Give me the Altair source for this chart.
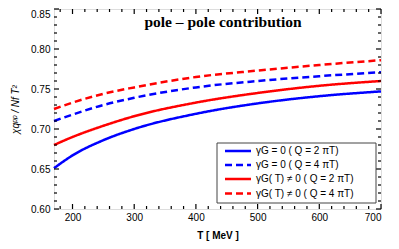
import altair as alt
import pandas as pd

T_vals = [170, 200, 250, 300, 400, 500, 600, 700]
blue_solid = [0.651, 0.667, 0.686, 0.700, 0.719, 0.732, 0.741, 0.747]
blue_dash = [0.710, 0.718, 0.730, 0.739, 0.752, 0.760, 0.766, 0.771]
red_solid = [0.680, 0.690, 0.704, 0.716, 0.733, 0.745, 0.754, 0.760]
red_dash = [0.725, 0.733, 0.744, 0.752, 0.765, 0.773, 0.780, 0.786]

series_names = [
    "γG = 0 ( Q = 2 πT)",
    "γG = 0 ( Q = 4 πT)",
    "γG( T) ≠ 0 ( Q = 2 πT)",
    "γG( T) ≠ 0 ( Q = 4 πT)",
]
series_colors = ["#0000ff", "#0000ff", "#ff0000", "#ff0000"]
series_dash = [[1, 0], [7, 4], [1, 0], [7, 4]]
series_values = [blue_solid, blue_dash, red_solid, red_dash]

x_major = [200, 300, 400, 500, 600, 700]
x_minor = [180, 220, 240, 260, 280, 320, 340, 360, 380, 420, 440, 460, 480,
           520, 540, 560, 580, 620, 640, 660, 680]
y_major = [0.60, 0.65, 0.70, 0.75, 0.80, 0.85]
y_minor = [0.61, 0.62, 0.63, 0.64, 0.66, 0.67, 0.68, 0.69, 0.71, 0.72, 0.73,
           0.74, 0.76, 0.77, 0.78, 0.79, 0.81, 0.82, 0.83, 0.84]

W, H = 327, 200
FONT = "Liberation Sans"

rows = []
for name, vals in zip(series_names, series_values):
    for t, v in zip(T_vals, vals):
        rows.append({"T": t, "chi": v, "series": name})
df = pd.DataFrame(rows)

xs = alt.Scale(domain=[170, 700], nice=False, zero=False)
ys = alt.Scale(domain=[0.60, 0.85], nice=False, zero=False)

xaxis = alt.Axis(title="T [ MeV ]", values=x_major, ticks=False, tickSize=0,
                 domain=False, grid=False, labelPadding=3, titlePadding=8,
                 labelFont=FONT, labelFontSize=10, labelColor="black",
                 titleFont=FONT, titleFontSize=10, titleFontWeight="bold",
                 titleColor="black")
yaxis = alt.Axis(title="χqᵖᵖ / Nf T²", values=y_major, format=".2f",
                 ticks=False, tickSize=0, domain=False, grid=False,
                 labelPadding=4, titlePadding=10,
                 labelBaseline=alt.condition("datum.value >= 0.849",
                                             alt.value("top"), alt.value("middle")),
                 labelFont=FONT, labelFontSize=10, labelColor="black",
                 titleFont=FONT, titleFontSize=10, titleFontStyle="italic",
                 titleFontWeight="normal", titleColor="black")

lines = alt.Chart(df).mark_line(strokeWidth=2.5, interpolate="monotone").encode(
    x=alt.X("T:Q", scale=xs, axis=xaxis),
    y=alt.Y("chi:Q", scale=ys, axis=yaxis),
    color=alt.Color("series:N", scale=alt.Scale(domain=series_names, range=series_colors),
                    legend=None),
    strokeDash=alt.StrokeDash("series:N",
                              scale=alt.Scale(domain=series_names, range=series_dash),
                              legend=None),
)

def tick_layers(vals, length, axis):
    d = pd.DataFrame({"v": vals})
    base = alt.Chart(d).mark_rule(color="black", strokeWidth=1.2)
    if axis == "x":
        bottom = base.encode(x=alt.X("v:Q", scale=xs, axis=xaxis),
                             y=alt.value(H), y2=alt.value(H - length))
        top = base.encode(x=alt.X("v:Q", scale=xs, axis=xaxis),
                          y=alt.value(0), y2=alt.value(length))
        return [bottom, top]
    left = base.encode(y=alt.Y("v:Q", scale=ys, axis=yaxis),
                       x=alt.value(0), x2=alt.value(length))
    right = base.encode(y=alt.Y("v:Q", scale=ys, axis=yaxis),
                        x=alt.value(W), x2=alt.value(W - length))
    return [left, right]

ticks = (tick_layers(x_major, 5, "x") + tick_layers(x_minor, 3, "x")
         + tick_layers(y_major, 5, "y") + tick_layers(y_minor, 3, "y"))

title = alt.Chart(pd.DataFrame({"t": ["pole – pole  contribution"]})).mark_text(
    font="Liberation Serif", fontSize=15.5, fontWeight="bold", color="black",
    align="center", baseline="middle"
).encode(x=alt.value(169), y=alt.value(13), text="t:N")

# legend box
LX0, LX1, LY0, LY1 = 163, 322, 134, 194
legend_box = alt.Chart(pd.DataFrame({"a": [0]})).mark_rect(
    fill="white", stroke="#444444", strokeWidth=1
).encode(x=alt.value(LX0), x2=alt.value(LX1), y=alt.value(LY0), y2=alt.value(LY1))

legend_layers = [legend_box]
row_y = [142, 156, 170, 184.5]
for name, col, dash, ry in zip(series_names, series_colors, series_dash, row_y):
    d = pd.DataFrame({"s": [name]})
    legend_layers.append(
        alt.Chart(d).mark_rule(color=col, strokeWidth=2.5, strokeDash=dash).encode(
            x=alt.value(171), x2=alt.value(197), y=alt.value(ry)))
    legend_layers.append(
        alt.Chart(d).mark_text(font=FONT, fontSize=10, color="black", align="left",
                               baseline="middle").encode(
            x=alt.value(202), y=alt.value(ry), text="s:N"))

chart = alt.layer(lines, *ticks, title, *legend_layers).properties(
    width=W, height=H,
    autosize=alt.AutoSizeParams(type="none"),
    padding={"left": 46, "top": 1, "right": 10, "bottom": 32},
).configure_view(stroke="black", strokeWidth=2.5).configure(background="white")

chart.save("out.html", embed_options={"renderer": "svg", "actions": False})
